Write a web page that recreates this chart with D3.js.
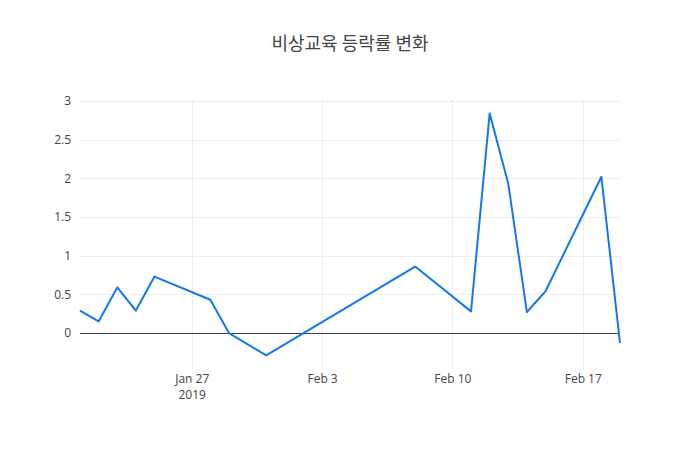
<!DOCTYPE html>
<html>
<head>
<meta charset="utf-8">
<script src="https://cdn.jsdelivr.net/npm/d3@7"></script>
<style>
body { margin: 0; background: #fff; }
svg { font-family: "Open Sans", "Noto Sans CJK KR", sans-serif; }
</style>
</head>
<body>
<svg id="chart" width="700" height="450"></svg>
<script>
const dates = ["2019-01-21","2019-01-22","2019-01-23","2019-01-24","2019-01-25","2019-01-28","2019-01-29","2019-01-31","2019-02-08","2019-02-11","2019-02-12","2019-02-13","2019-02-14","2019-02-15","2019-02-18","2019-02-19"];
const changes = [0.29, 0.15, 0.59, 0.29, 0.73, 0.43, 0.0, -0.29, 0.86, 0.28, 2.84, 1.93, 0.27, 0.54, 2.02, -0.13];
const yTicks = [0, 0.5, 1, 1.5, 2, 2.5, 3];
const xTicks = ["2019-01-27","2019-02-03","2019-02-10","2019-02-17"];
const xTickLabels = ["Jan 27","Feb 3","Feb 10","Feb 17"];
const titleText = "비상교육 등락률 변화";

const parse = d3.utcParse("%Y-%m-%d");
const data = dates.map((d, i) => ({ date: parse(d), value: changes[i] }));

const svg = d3.select("#chart");
const margin = { left: 80, right: 80, top: 100, bottom: 80 };
const W = 700, H = 450;

const x = d3.scaleUtc()
  .domain([parse(dates[0]), parse(dates[dates.length - 1])])
  .range([margin.left, W - margin.right]);
const y = d3.scaleLinear()
  .domain([-0.478, 3.013])
  .range([H - margin.bottom, margin.top]);

const snap = v => Math.round(v) + 0.5;

// grid lines
const grid = svg.append("g");
grid.selectAll("line.h").data(yTicks.filter(t => t !== 0)).enter().append("line")
  .attr("x1", margin.left).attr("x2", W - margin.right)
  .attr("y1", d => snap(y(d))).attr("y2", d => snap(y(d)))
  .attr("stroke", "#eee").attr("stroke-width", 1);
grid.selectAll("line.v").data(xTicks).enter().append("line")
  .attr("x1", d => snap(x(parse(d)))).attr("x2", d => snap(x(parse(d))))
  .attr("y1", margin.top).attr("y2", H - margin.bottom)
  .attr("stroke", "#eee").attr("stroke-width", 1);

// zero line
svg.append("line")
  .attr("x1", margin.left).attr("x2", W - margin.right)
  .attr("y1", snap(y(0))).attr("y2", snap(y(0)))
  .attr("stroke", "#444").attr("stroke-width", 1);

// y axis labels
const yAxis = d3.axisLeft(y).tickValues(yTicks).tickSize(0).tickPadding(9)
  .tickFormat(d => d3.format("")(d));
const ya = svg.append("g").attr("transform", `translate(${margin.left},0)`).call(yAxis);
ya.select(".domain").remove();
ya.selectAll("text").attr("fill", "#444").style("font-size", "12px").style("font-family", "'Open Sans', sans-serif");

// x axis labels
const xAxis = d3.axisBottom(x).tickValues(xTicks.map(parse)).tickSize(0).tickPadding(0)
  .tickFormat((d, i) => xTickLabels[i]);
const xa = svg.append("g").attr("transform", `translate(0,${H - margin.bottom})`).call(xAxis);
xa.select(".domain").remove();
xa.selectAll("text").attr("fill", "#444").attr("dy", 0).attr("y", 12.5)
  .style("font-size", "12px").style("font-family", "'Open Sans', sans-serif");
xa.selectAll(".tick").filter((d, i) => i === 0).append("text")
  .attr("fill", "#444").attr("y", 28.5).attr("text-anchor", "middle")
  .style("font-size", "12px").style("font-family", "'Open Sans', sans-serif")
  .text("2019");

// line
svg.append("path")
  .datum(data)
  .attr("fill", "none")
  .attr("stroke", "#1479e6")
  .attr("stroke-width", 2)
  .attr("stroke-linejoin", "round")
  .attr("d", d3.line().x(d => x(d.date)).y(d => y(d.value)));

// title
svg.append("text")
  .attr("x", W / 2).attr("y", 50)
  .attr("text-anchor", "middle")
  .attr("fill", "#444")
  .style("font-size", "18px")
  .style("font-family", "'Noto Sans CJK KR', 'Open Sans', sans-serif")
  .text(titleText);
</script>
</body>
</html>
